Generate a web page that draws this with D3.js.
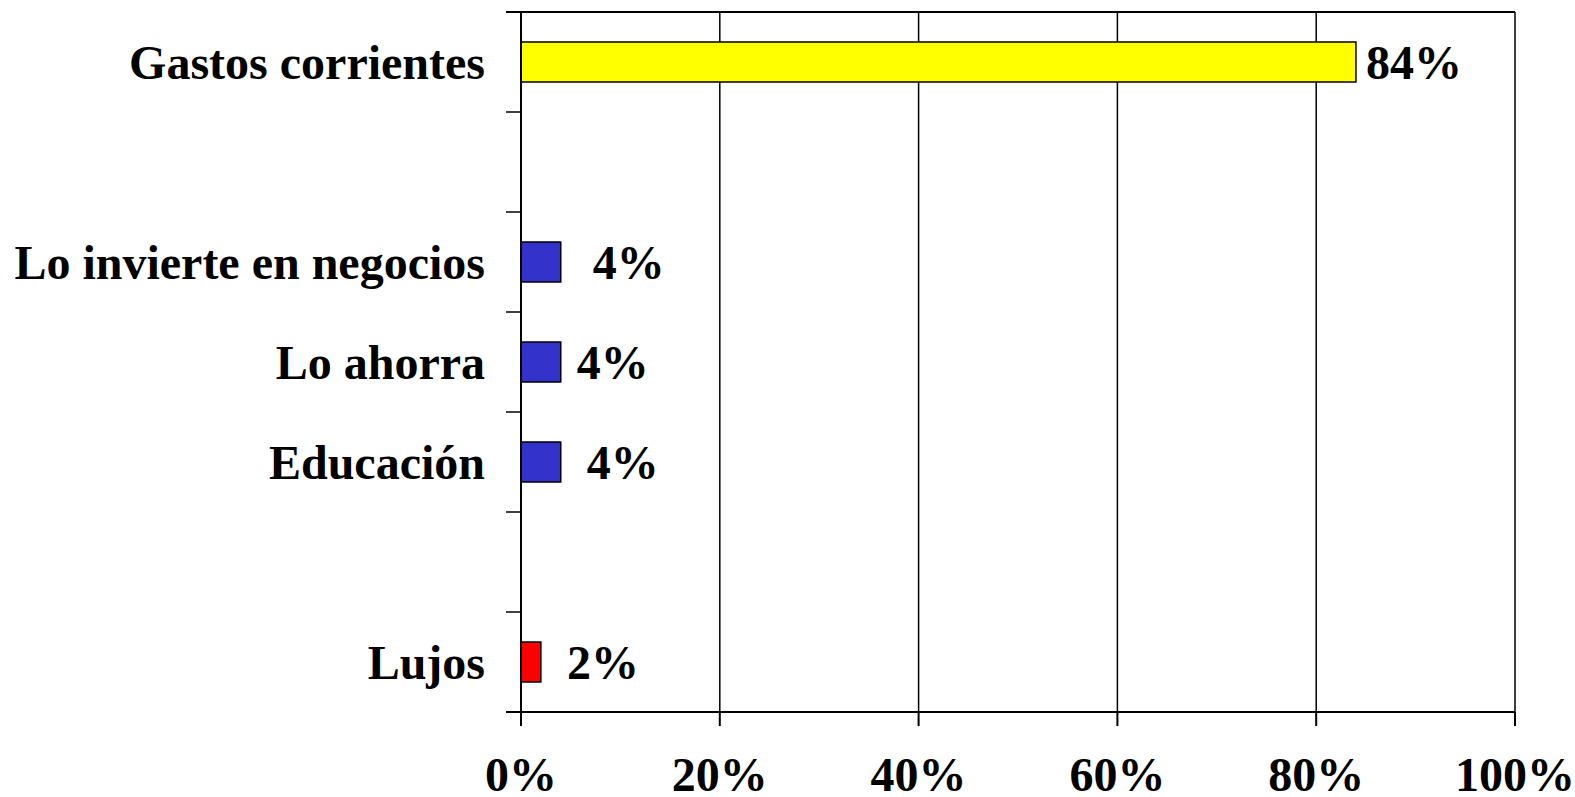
<!DOCTYPE html>
<html>
<head>
<meta charset="utf-8">
<script src="https://cdn.jsdelivr.net/npm/d3@7"></script>
<style>
  body { margin: 0; background: #fff; }
  svg text { font-family: "Liberation Serif", "Times New Roman", serif; font-weight: bold; }
</style>
</head>
<body>
<div id="chart"></div>
<script>
// Data (empty rows are gaps in the original chart)
const categories = ["Gastos corrientes", "", "Lo invierte en negocios", "Lo ahorra", "Educación", "", "Lujos"];
const values = [84, null, 4, 4, 4, null, 2];
const barColors = ["#ffff00", null, "#3333cc", "#3333cc", "#3333cc", null, "#ff0000"];
const xTicks = [0, 20, 40, 60, 80, 100];
// the value labels sit at slightly uneven distances from the bar ends
const labelDx = [10, 0, 32, 16, 26, 0, 26];

const width = 1575, height = 797;
const margin = { top: 12, right: 60, bottom: 85, left: 521 };
const fontSize = 48;

const svg = d3.select("#chart")
    .append("svg")
    .attr("width", width)
    .attr("height", height);

const x = d3.scaleLinear()
    .domain([0, 100])
    .range([margin.left, 1515]);

const plotTop = margin.top, plotBottom = 712;

const idx = d3.range(categories.length);
const y = d3.scaleBand()
    .domain(idx)
    .range([plotTop, plotBottom])
    .paddingInner(0.6)
    .paddingOuter(0.3);

// Vertical grid lines and right border
svg.append("g")
    .selectAll("line")
    .data(xTicks.slice(1))
    .enter()
    .append("line")
    .attr("x1", d => x(d))
    .attr("x2", d => x(d))
    .attr("y1", plotTop)
    .attr("y2", plotBottom)
    .attr("stroke", "#000")
    .attr("stroke-width", 1.5);

// Top border
svg.append("line")
    .attr("x1", x(0) - 15).attr("x2", x(100))
    .attr("y1", plotTop).attr("y2", plotTop)
    .attr("stroke", "#000").attr("stroke-width", 2);

// Bars
svg.append("g")
    .selectAll("rect")
    .data(idx.filter(i => values[i] != null))
    .enter()
    .append("rect")
    .attr("x", x(0))
    .attr("y", i => y(i))
    .attr("width", i => x(values[i]) - x(0))
    .attr("height", y.bandwidth())
    .attr("fill", i => barColors[i])
    .attr("stroke", "#000")
    .attr("stroke-width", 1.5);

// Value labels
svg.append("g")
    .selectAll("text")
    .data(idx.filter(i => values[i] != null))
    .enter()
    .append("text")
    .attr("x", i => x(values[i]) + labelDx[i])
    .attr("y", i => y(i) + y.bandwidth() / 2)
    .attr("dy", "0.35em")
    .attr("font-size", fontSize)
    .text(i => values[i] + "%");

// Category axis: ticks at band boundaries
const boundaries = idx.map(i => y(i) - y.step() * y.paddingOuter()).concat([plotBottom]);
svg.append("g")
    .selectAll("line")
    .data(boundaries)
    .enter()
    .append("line")
    .attr("x1", x(0) - 15)
    .attr("x2", x(0))
    .attr("y1", d => d)
    .attr("y2", d => d)
    .attr("stroke", "#000")
    .attr("stroke-width", 1.5);

svg.append("line")
    .attr("x1", x(0)).attr("x2", x(0))
    .attr("y1", plotTop).attr("y2", plotBottom + 14)
    .attr("stroke", "#000").attr("stroke-width", 2);

svg.append("g")
    .selectAll("text")
    .data(idx.filter(i => categories[i] !== ""))
    .enter()
    .append("text")
    .attr("x", 485)
    .attr("y", i => y(i) + y.bandwidth() / 2)
    .attr("dy", "0.35em")
    .attr("text-anchor", "end")
    .attr("font-size", fontSize)
    .text(i => categories[i]);

// Value axis at the bottom
svg.append("line")
    .attr("x1", x(0) - 15).attr("x2", x(100))
    .attr("y1", plotBottom).attr("y2", plotBottom)
    .attr("stroke", "#000").attr("stroke-width", 2);

svg.append("g")
    .selectAll("line")
    .data(xTicks)
    .enter()
    .append("line")
    .attr("x1", d => x(d))
    .attr("x2", d => x(d))
    .attr("y1", plotBottom)
    .attr("y2", plotBottom + 14)
    .attr("stroke", "#000")
    .attr("stroke-width", 2);

svg.append("g")
    .selectAll("text")
    .data(xTicks)
    .enter()
    .append("text")
    .attr("x", d => x(d))
    .attr("y", 791)
    .attr("text-anchor", "middle")
    .attr("font-size", fontSize)
    .text(d => d + "%");
</script>
</body>
</html>
